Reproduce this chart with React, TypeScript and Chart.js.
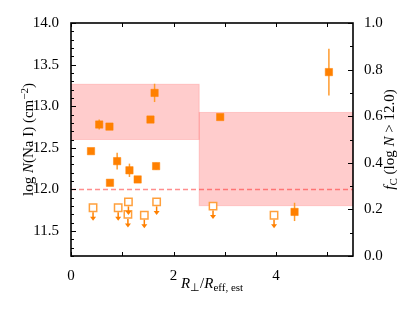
import { useEffect, useRef } from 'react';
import { Chart, registerables } from 'chart.js';
Chart.register(...registerables);

// Detections: R_perp / R_eff,est and log N(NaI)
const detX = [0.39, 0.55, 0.75, 0.76, 0.90, 1.14, 1.30, 1.55, 1.63, 1.66, 2.91, 4.36, 5.03];
const detY = [12.46, 12.78, 12.755, 12.08, 12.34, 12.23, 12.12, 12.84, 13.16, 12.28, 12.87, 11.73, 13.41];
const detErr = [0.03, 0.06, 0.04, 0.03, 0.10, 0.08, 0.03, 0.04, 0.11, 0.04, 0.03, 0.11, 0.28];
// Upper limits
const limX = [0.43, 0.92, 1.12, 1.11, 1.43, 1.67, 2.77, 3.96];
const limY = [11.78, 11.78, 11.85, 11.70, 11.69, 11.85, 11.80, 11.69];
// Covering fraction bins
const binEdges = [0, 2.5, 5.5];
const fcLow = [0.50, 0.216];
const fcHigh = [0.737, 0.616];
const threshold = 12.0;
// Tick labels
const xTickValues = [0, 2, 4];
const yTickValues = [11.5, 12.0, 12.5, 13.0, 13.5, 14.0];
const y1TickValues = [0.0, 0.2, 0.4, 0.6, 0.8, 1.0];

const FONT = '"Liberation Serif", "Times New Roman", serif';
const ORANGE = 'rgb(255,128,0)';
const LIGHT_ORANGE = 'rgb(255,160,60)';
const ERR = 'rgb(255,155,45)';

type Seg = { t: string; it?: boolean; sup?: boolean; sub?: boolean };

function drawRich(ctx: CanvasRenderingContext2D, segs: Seg[], cx: number, cy: number, rot: number, size: number) {
  ctx.save();
  ctx.translate(cx, cy);
  ctx.rotate(rot);
  const fontFor = (s: Seg) => `${s.it ? 'italic ' : ''}${s.sup || s.sub ? Math.round(size * 0.74) : size}px ${FONT}`;
  const widths = segs.map((s) => {
    ctx.font = fontFor(s);
    return ctx.measureText(s.t).width;
  });
  const total = widths.reduce((a, b) => a + b, 0);
  let x = -total / 2;
  ctx.textAlign = 'left';
  ctx.textBaseline = 'alphabetic';
  ctx.fillStyle = '#000';
  segs.forEach((s, i) => {
    ctx.font = fontFor(s);
    const dy = s.sup ? -size * 0.38 : s.sub ? size * 0.18 : 0;
    ctx.fillText(s.t, x, dy + size * 0.35);
    x += widths[i];
  });
  ctx.restore();
}

const decorPlugin = {
  id: 'decor',
  beforeDatasetsDraw(chart: any) {
    const { ctx, chartArea: a } = chart;
    const xs = chart.scales.x;
    const ys = chart.scales.y;
    const y1 = chart.scales.y1;
    ctx.save();
    ctx.beginPath();
    ctx.rect(a.left, a.top, a.right - a.left, a.bottom - a.top);
    ctx.clip();
    // bins
    for (let i = 0; i < fcLow.length; i++) {
      const l = xs.getPixelForValue(binEdges[i]);
      const r = xs.getPixelForValue(binEdges[i + 1]);
      const t = y1.getPixelForValue(fcHigh[i]);
      const b = y1.getPixelForValue(fcLow[i]);
      ctx.fillStyle = 'rgba(255,0,0,0.2)';
      ctx.fillRect(l, t, r - l, b - t);
      ctx.strokeStyle = 'rgba(255,90,90,0.25)';
      ctx.lineWidth = 1;
      ctx.strokeRect(l, t, r - l, b - t);
    }
    // threshold
    const ty = Math.round(ys.getPixelForValue(threshold)) + 0.5;
    ctx.strokeStyle = 'rgba(255,30,30,0.5)';
    ctx.lineWidth = 1.5;
    ctx.setLineDash([5, 3]);
    ctx.beginPath();
    ctx.moveTo(a.left, ty);
    ctx.lineTo(a.right, ty);
    ctx.stroke();
    ctx.setLineDash([]);
    // error bars
    ctx.strokeStyle = ERR;
    ctx.lineWidth = 1.5;
    for (let i = 0; i < detX.length; i++) {
      const px = xs.getPixelForValue(detX[i]);
      ctx.beginPath();
      ctx.moveTo(px, ys.getPixelForValue(detY[i] + detErr[i]));
      ctx.lineTo(px, ys.getPixelForValue(detY[i] - detErr[i]));
      ctx.stroke();
    }
    ctx.restore();
  },
  afterDatasetsDraw(chart: any) {
    const { ctx } = chart;
    const xs = chart.scales.x;
    const ys = chart.scales.y;
    ctx.save();
    ctx.strokeStyle = ORANGE;
    ctx.fillStyle = ORANGE;
    ctx.lineWidth = 1.5;
    for (let i = 0; i < limX.length; i++) {
      const px = xs.getPixelForValue(limX[i]);
      const py = ys.getPixelForValue(limY[i]);
      const tip = py + 13;
      ctx.beginPath();
      ctx.moveTo(px, py + 4.5);
      ctx.lineTo(px, tip - 3);
      ctx.stroke();
      ctx.beginPath();
      ctx.moveTo(px - 3, tip - 4);
      ctx.lineTo(px + 3, tip - 4);
      ctx.lineTo(px, tip);
      ctx.closePath();
      ctx.fill();
    }
    ctx.restore();
  },
  afterDraw(chart: any) {
    const { ctx, chartArea: a } = chart;
    const xs = chart.scales.x;
    const ys = chart.scales.y;
    const y1 = chart.scales.y1;
    ctx.save();
    ctx.strokeStyle = '#000';
    ctx.lineWidth = 1;
    // ticks
    ctx.beginPath();
    for (let v = 0; v <= 5; v++) {
      const px = Math.round(xs.getPixelForValue(v)) + 0.5;
      ctx.moveTo(px, a.bottom);
      ctx.lineTo(px, a.bottom - 4);
      ctx.moveTo(px, a.top);
      ctx.lineTo(px, a.top + 4);
    }
    for (let k = 112; k <= 140; k++) {
      const v = k / 10;
      const py = Math.round(ys.getPixelForValue(v)) + 0.5;
      const len = k % 5 === 0 ? 5 : 3;
      ctx.moveTo(a.left, py);
      ctx.lineTo(a.left + len, py);
    }
    for (let k = 0; k <= 10; k++) {
      const py = Math.round(y1.getPixelForValue(k / 10)) + 0.5;
      const len = k % 2 === 0 ? 5 : 3;
      ctx.moveTo(a.right, py);
      ctx.lineTo(a.right - len, py);
    }
    ctx.stroke();
    // frame
    ctx.lineWidth = 1.6;
    ctx.strokeRect(a.left, a.top, a.right - a.left, a.bottom - a.top);
    ctx.restore();

    const cy = (a.top + a.bottom) / 2;
    drawRich(ctx, [
      { t: 'log ' }, { t: 'N', it: true }, { t: '(Na I) (cm' }, { t: '\u22122', sup: true }, { t: ')' },
    ], 28, cy, -Math.PI / 2, 15);
    drawRich(ctx, [
      { t: 'f', it: true }, { t: 'C', sub: true }, { t: ' (log ' }, { t: 'N', it: true }, { t: ' > 12.0)' },
    ], 389, cy, -Math.PI / 2, 15);
    drawRich(ctx, [
      { t: 'R', it: true }, { t: '\u22a5', sub: true }, { t: '/' }, { t: 'R', it: true }, { t: 'eff, est', sub: true },
    ], (a.left + a.right) / 2, 283, 0, 15);
  },
};

export default function App() {
  const ref = useRef<HTMLCanvasElement | null>(null);
  useEffect(() => {
    document.body.style.margin = '0';
    const canvas = ref.current;
    if (!canvas) return;
    const tickFont = { family: FONT, size: 15 };
    const chart = new Chart(canvas, {
      type: 'scatter',
      data: {
        datasets: [
          {
            label: 'limits',
            data: limX.map((x, i) => ({ x, y: limY[i] })),
            pointStyle: 'rect',
            pointRadius: 5.2,
            backgroundColor: '#fff',
            borderColor: LIGHT_ORANGE,
            borderWidth: 1.5,
            order: 2,
          },
          {
            label: 'detections',
            data: detX.map((x, i) => ({ x, y: detY[i] })),
            pointStyle: 'rect',
            pointRadius: 5.2,
            backgroundColor: ORANGE,
            borderColor: ORANGE,
            borderWidth: 0.5,
            order: 1,
          },
        ],
      },
      options: {
        animation: false,
        responsive: false,
        maintainAspectRatio: false,
        layout: { padding: { top: 23, left: 0, right: 0, bottom: 0 } },
        plugins: { legend: { display: false }, tooltip: { enabled: false } },
        scales: {
          x: {
            type: 'linear',
            position: 'bottom',
            min: 0,
            max: 5.5,
            grid: { display: false },
            border: { display: false },
            ticks: { font: tickFont, color: '#000', padding: 3, maxRotation: 0, autoSkip: false },
            afterBuildTicks: (s: any) => { s.ticks = xTickValues.map((value) => ({ value })); },
            afterFit: (s: any) => { s.height = 55; },
          },
          y: {
            type: 'linear',
            position: 'left',
            min: 11.2,
            max: 14.0,
            grid: { display: false },
            border: { display: false },
            ticks: { font: tickFont, color: '#000', padding: 4, callback: (v: any) => Number(v).toFixed(1) },
            afterBuildTicks: (s: any) => { s.ticks = yTickValues.map((value) => ({ value })); },
            afterFit: (s: any) => { s.width = 71; },
          },
          y1: {
            type: 'linear',
            position: 'right',
            min: 0,
            max: 1,
            grid: { display: false },
            border: { display: false },
            ticks: { font: tickFont, color: '#000', padding: 3, callback: (v: any) => Number(v).toFixed(1) },
            afterBuildTicks: (s: any) => { s.ticks = y1TickValues.map((value) => ({ value })); },
            afterFit: (s: any) => { s.width = 62; },
          },
        },
      },
      plugins: [decorPlugin],
    } as any);
    return () => chart.destroy();
  }, []);
  return (
    <div style={{ position: 'absolute', left: 0, top: 0, width: 415, height: 311, background: '#fff' }}>
      <canvas ref={ref} width={415} height={311} />
    </div>
  );
}
